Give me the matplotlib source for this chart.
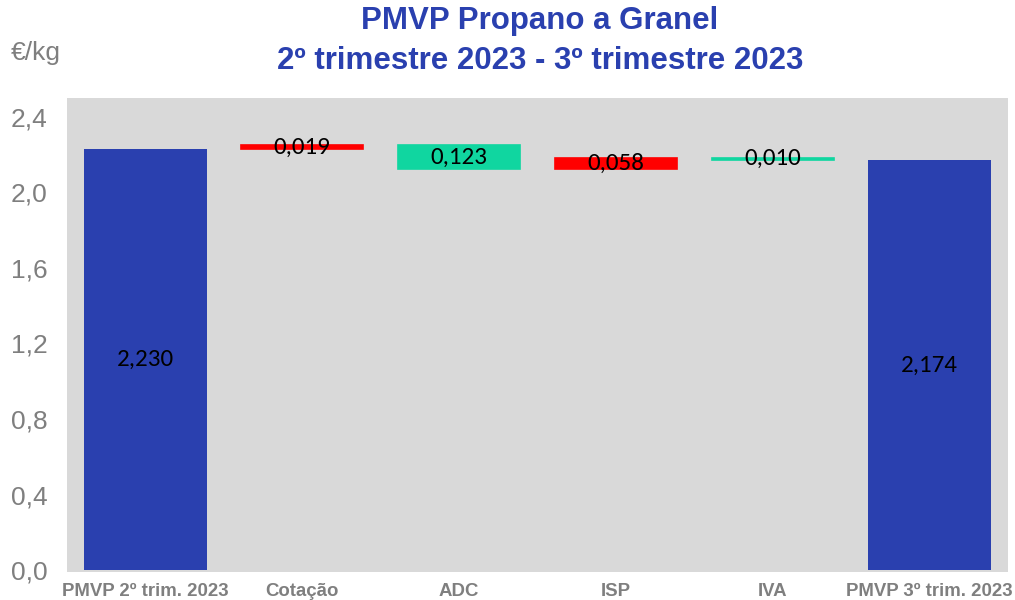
"""Waterfall chart of the PMVP for bulk propane, Q2 to Q3 2023."""

import matplotlib

matplotlib.use("Agg")
import matplotlib.pyplot as plt
import numpy as np


CATEGORIES = [
    "PMVP 2º trim. 2023",
    "Cotação",
    "ADC",
    "ISP",
    "IVA",
    "PMVP 3º trim. 2023",
]
START_VALUE = 2.230
END_VALUE = 2.174
CHANGES = [0.019, -0.123, 0.058, -0.010]
Y_TICKS = [0.0, 0.4, 0.8, 1.2, 1.6, 2.0, 2.4]

BLUE = "#2A40AF"
RED = "#FF0000"
GREEN = "#10D6A0"
GREY_BG = "#D9D9D9"
GREY_TEXT = "#7F7F7F"
LABEL_FONT = ["Carlito", "Lato", "DejaVu Sans"]
NARROW_FONT = ["Liberation Sans Narrow", "Liberation Sans", "DejaVu Sans"]


def fmt(value: float) -> str:
    return f"{value:.3f}".replace(".", ",")


def main() -> None:
    fig = plt.figure(figsize=(10.15, 6.0), dpi=100)
    ax = fig.add_axes([67 / 1015, 28 / 600, 941 / 1015, 474 / 600])
    ax.set_facecolor(GREY_BG)

    x = np.arange(len(CATEGORIES))
    width = 0.78
    label_size = 18

    # totals
    ax.bar(x[0], START_VALUE, width=width, color=BLUE)
    ax.bar(x[-1], END_VALUE, width=width, color=BLUE)
    ax.text(x[0], START_VALUE / 2, fmt(START_VALUE), ha="center",
            va="center", fontsize=label_size, family=LABEL_FONT)
    ax.text(x[-1], END_VALUE / 2, fmt(END_VALUE), ha="center",
            va="center", fontsize=label_size, family=LABEL_FONT)

    # changes
    level = START_VALUE
    for i, change in enumerate(CHANGES, start=1):
        bottom = level if change > 0 else level + change
        color = RED if change > 0 else GREEN
        ax.bar(x[i], abs(change), bottom=bottom, width=width,
               color=color, edgecolor=color, linewidth=1.2)
        ax.text(x[i], bottom + abs(change) / 2, fmt(abs(change)),
                ha="center", va="center", fontsize=label_size,
                family=LABEL_FONT)
        level += change

    ax.set_xlim(-0.5, len(CATEGORIES) - 0.5)
    ax.set_ylim(-0.01, 2.5)
    ax.set_yticks(Y_TICKS)
    ax.set_yticklabels([f"{t:.1f}".replace(".", ",") for t in Y_TICKS],
                       fontsize=19, color=GREY_TEXT, family="Liberation Sans")
    ax.set_xticks(x)
    ax.set_xticklabels(CATEGORIES, fontsize=13.4, color=GREY_TEXT,
                       fontweight="bold", family=NARROW_FONT)
    ax.tick_params(axis="both", length=0)
    ax.tick_params(axis="x", pad=8)
    ax.tick_params(axis="y", pad=14)
    for spine in ax.spines.values():
        spine.set_visible(False)

    fig.text(540 / 1015, 1 - 21 / 600, "PMVP Propano a Granel",
             ha="center", va="center", fontsize=22.5, fontweight="bold",
             color=BLUE, family="Liberation Sans")
    fig.text(540 / 1015, 1 - 61 / 600,
             "2º trimestre 2023 - 3º trimestre 2023",
             ha="center", va="center", fontsize=22.5, fontweight="bold",
             color=BLUE, family="Liberation Sans")
    fig.text(11 / 1015, 1 - 53 / 600, "€/kg", ha="left", va="center",
             fontsize=19, color=GREY_TEXT, family="Liberation Sans")

    fig.savefig("out.png", dpi=100)


if __name__ == "__main__":
    main()
